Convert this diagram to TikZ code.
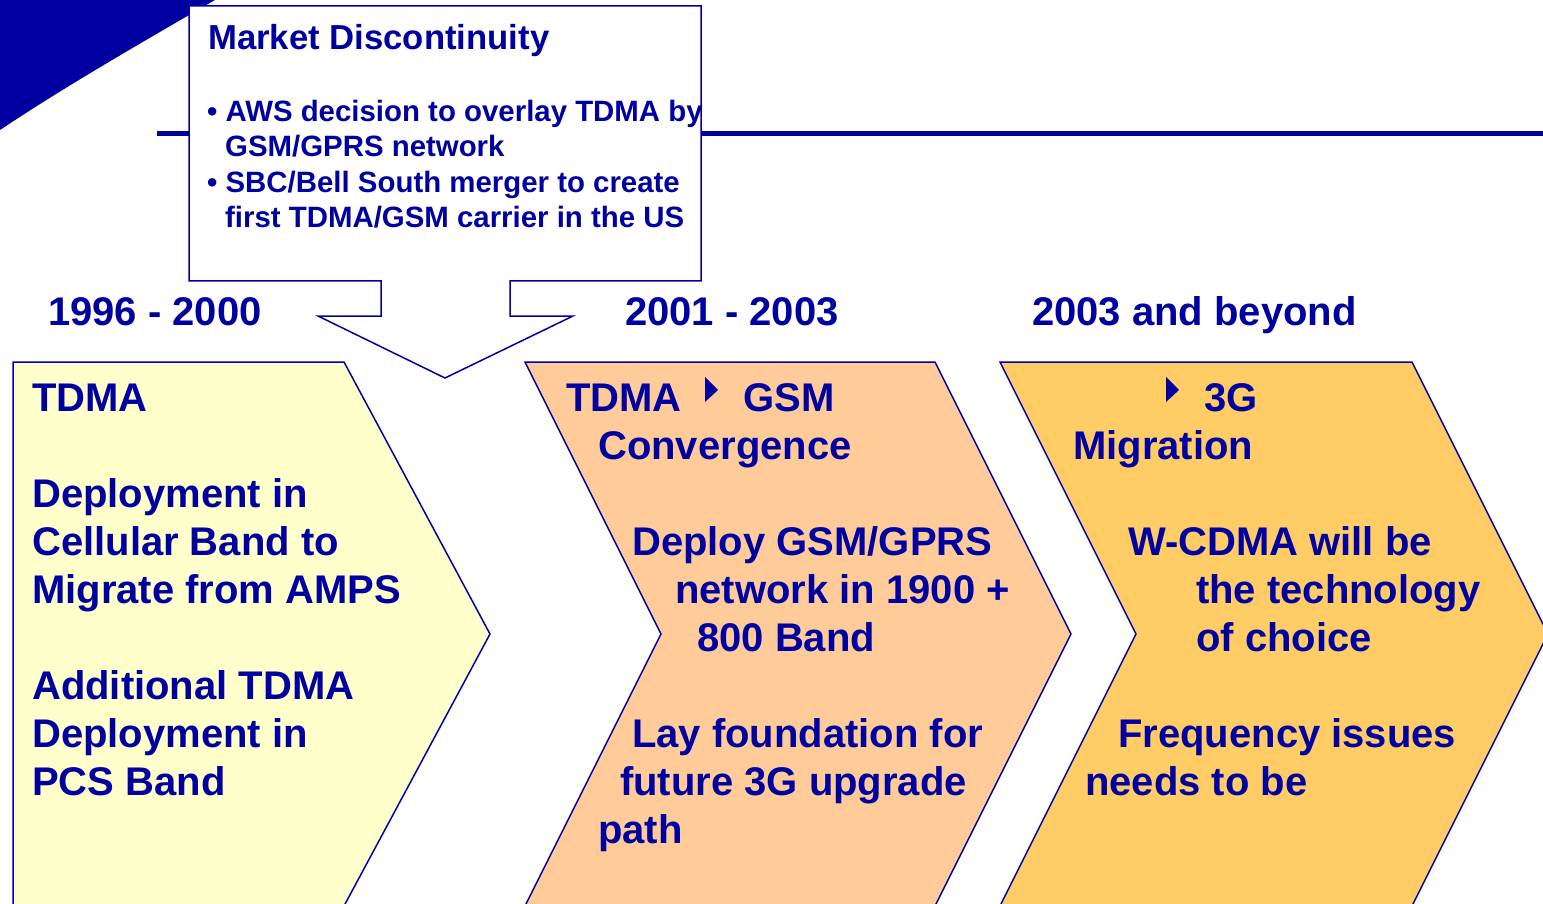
\documentclass[tikz,border=0pt]{standalone}
\usepackage{fontspec}
\setmainfont{Liberation Sans}
\definecolor{navy}{RGB}{0,0,160}
\definecolor{chA}{RGB}{255,255,204}
\definecolor{chB}{RGB}{255,204,153}
\definecolor{chC}{RGB}{255,204,102}
\begin{document}
\begin{tikzpicture}[x=1pt,y=-1pt,
  big/.style={anchor=base west,inner sep=0pt,text=navy,font=\bfseries\fontsize{40}{48}\selectfont},
  title/.style={anchor=base west,inner sep=0pt,text=navy,font=\bfseries\fontsize{34.7}{40}\selectfont},
  bullet/.style={anchor=base west,inner sep=0pt,text=navy,font=\bfseries\fontsize{29.4}{36}\selectfont},
  chev/.style={draw=navy,line width=1.5pt,line join=miter},
  tri/.style={fill=navy,draw=none}]
\useasboundingbox (0,0) rectangle (1543,904);
\clip (0,0) rectangle (1543,904);
% corner triangle and rule
\fill[navy] (0,0) -- (215,0) .. controls (120,55) and (60,90) .. (0,130) -- cycle;
\draw[navy,line width=5pt] (157,134) -- (1543,134);
% callout
\draw[chev,fill=white] (189,6) -- (701,6) -- (701,281) -- (510,281) -- (510,316) -- (573,316)
  -- (445,378) -- (318,316) -- (381,316) -- (381,281) -- (189,281) -- cycle;
\node[title] (mdtitle) at (208,50) {Market Discontinuity};
\node[bullet] (b1) at (207,121.5) {• AWS decision to overlay TDMA by};
\node[bullet] (b1b) at (225,157) {GSM/GPRS network};
\node[bullet] (b2) at (207,192.5) {• SBC/Bell South merger to create};
\node[bullet] (b2b) at (225,228) {first TDMA/GSM carrier in the US};
% years
\node[big] (y1) at (48,325) {1996 - 2000};
\node[big] (y2) at (625,325) {2001 - 2003};
\node[big] (y3) at (1032,325) {2003 and beyond};
% chevrons
\draw[chev,fill=chA] (13,362) -- (344,362) -- (490,634) -- (344,906) -- (13,906) -- cycle;
\draw[chev,fill=chB] (525,362) -- (935,362) -- (1071,634) -- (935,906) -- (525,906) -- (661,634) -- cycle;
\draw[chev,fill=chC] (1000,362) -- (1412,362) -- (1548,634) -- (1412,906) -- (1000,906) -- (1136,634) -- cycle;
% chevron 1 text
\node[big] (a0) at (32,411) {TDMA};
\node[big] (a2) at (32,507) {Deployment in};
\node[big] (a3) at (32,555) {Cellular Band to};
\node[big] (a4) at (32,603) {Migrate from AMPS};
\node[big] (a6) at (32,699) {Additional TDMA};
\node[big] (a7) at (32,747) {Deployment in};
\node[big] (a8) at (32,795) {PCS Band};
% chevron 2 text
\node[big] (c0) at (566,411) {TDMA};
\fill[tri] (705,377) -- (718,390) -- (705,402) -- cycle;
\node[big] (c0b) at (743,411) {GSM};
\node[big] (c1) at (598,459) {Convergence};
\node[big] (c3) at (632,555) {Deploy GSM/GPRS};
\node[big] (c4) at (675,603) {network in 1900 +};
\node[big] (c5) at (697,651) {800 Band};
\node[big] (c7) at (632,747) {Lay foundation for};
\node[big] (c8) at (620,795) {future 3G upgrade};
\node[big] (c9) at (598,843) {path};
% chevron 3 text
\fill[tri] (1166,377) -- (1179,390) -- (1166,402) -- cycle;
\node[big] (d0) at (1204,411) {3G};
\node[big] (d1) at (1073,459) {Migration};
\node[big] (d3) at (1128,555) {W-CDMA will be};
\node[big] (d4) at (1196,603) {the technology};
\node[big] (d5) at (1196,651) {of choice};
\node[big] (d7) at (1118,747) {Frequency issues};
\node[big] (d8) at (1085,795) {needs to be};
\end{tikzpicture}
\end{document}
